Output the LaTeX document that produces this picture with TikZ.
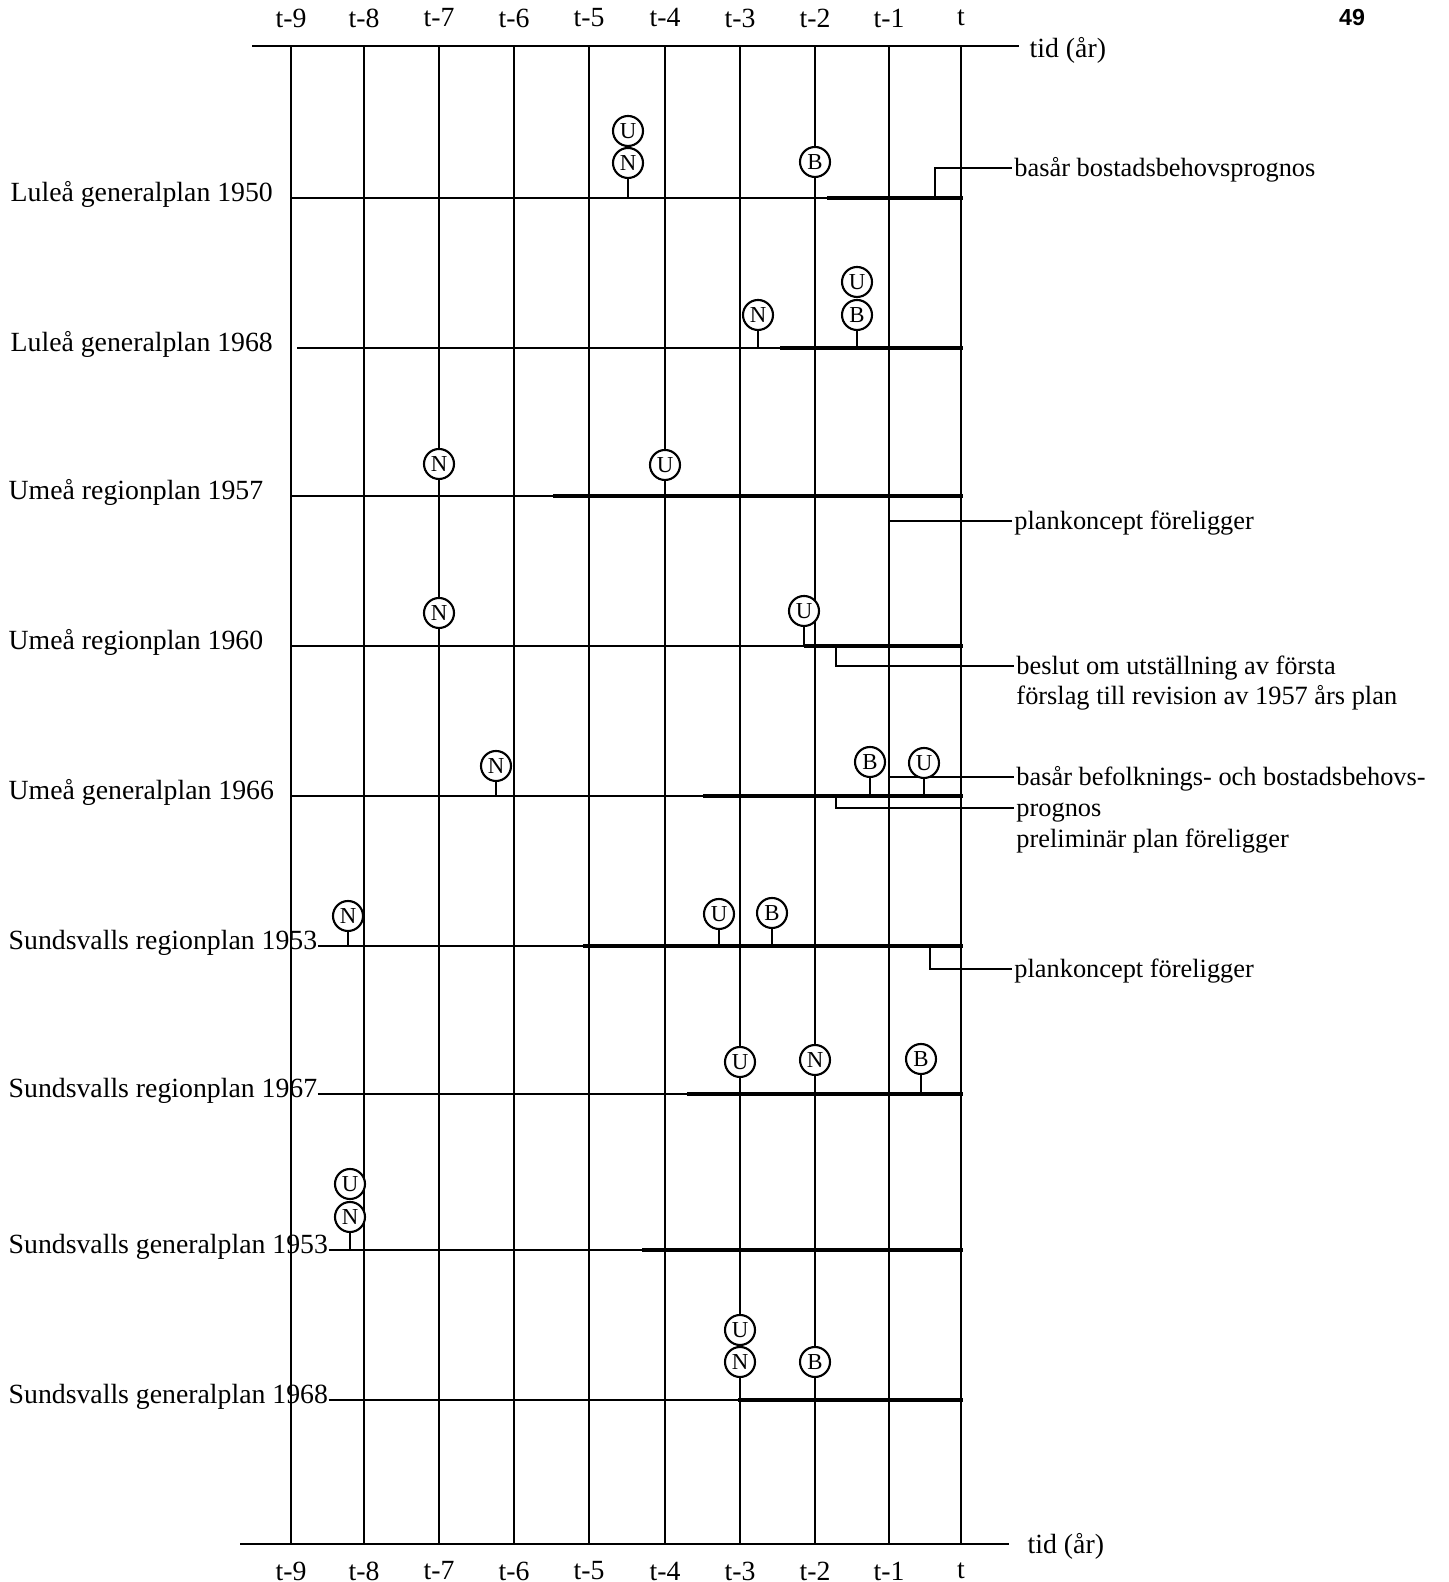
\documentclass[tikz,border=0pt]{standalone}
\usepackage{fontspec}
\setmainfont{Liberation Serif}
\newfontfamily\pagenofont{Liberation Sans}
\usetikzlibrary{calc}

\begin{document}
\begin{tikzpicture}[font=\fontsize{7.9}{9.5}\selectfont,
  gridline/.style={line width=0.45pt},
  axisline/.style={line width=0.7pt},
  planline/.style={line width=0.5pt},
  planbar/.style={line width=1.3pt},
  stage/.style={circle, draw, line width=0.6pt, fill=white, inner sep=0pt,
    minimum size=0.30cm, font=\fontsize{6.5}{7}\selectfont},
  stalk/.style={line width=0.6pt},
  planlabel/.style={anchor=base west, inner sep=0pt},
  note/.style={anchor=west, inner sep=0.5pt, font=\fontsize{7.5}{9}\selectfont,
    text height=0.7em, text depth=0.2em},
  tick/.style={inner sep=0pt}]

\useasboundingbox (0,0) rectangle (14.48,15.82);

% ===== Time axes =====
\draw[axisline] (2.52,15.36) -- (10.19,15.36);
\node[anchor=west, inner sep=0pt] (toptid) at (10.29,15.32) {tid (år)};
\draw[axisline] (2.40,0.38) -- (10.09,0.38);
\node[anchor=west, inner sep=0pt] (bottid) at (10.27,0.36) {tid (år)};

\node[font=\pagenofont\bfseries\fontsize{6.6}{8}\selectfont] (pageno) at (13.52,15.64) {49};

% one vertical line per year, labelled at both ends
\foreach \x/\lab [count=\i] in {2.91/t-9, 3.64/t-8, 4.39/t-7, 5.14/t-6, 5.89/t-5,
                                6.65/t-4, 7.40/t-3, 8.15/t-2, 8.89/t-1, 9.61/t} {
  \draw[gridline] (\x,15.36) -- (\x,0.38);
  \node[tick] (top\i) at (\x,15.64) {\lab};
  \node[tick] (bot\i) at (\x,0.11) {\lab};
}

% ===== Luleå generalplan 1950 =====
\begin{scope}[shift={(0,13.84)}]
  \node[planlabel] (lul50) at (0.10,-0.04) {Luleå generalplan 1950};
  \coordinate (lul50s) at (2.91,0);
  \coordinate (lul50e) at (9.61,0);
  \draw[planline] (lul50s) -- (lul50e);
  \draw[planbar] (8.27,0) -- (9.63,0);
  \node[stage] (lul50U) at (6.28,0.67) {U};
  \node[stage] (lul50N) at (6.28,0.35) {N};
  \node[stage] (lul50B) at (8.15,0.36) {B};
  \draw[stalk] (lul50N.south) -- (lul50N.south |- lul50e);
  \draw[stalk] (lul50B.south) -- (lul50B.south |- lul50e);
  \coordinate (lul50k) at (9.35,0);
  \node[note] (lul50note) at (10.12,0.30) {basår bostadsbehovsprognos};
  \draw[planline] (lul50k) |- (lul50note.west);
\end{scope}

% ===== Luleå generalplan 1968 =====
\begin{scope}[shift={(0,12.34)}]
  \node[planlabel] (lul68) at (0.10,-0.04) {Luleå generalplan 1968};
  \coordinate (lul68s) at (2.97,0);
  \coordinate (lul68e) at (9.61,0);
  \draw[planline] (lul68s) -- (lul68e);
  \draw[planbar] (7.80,0) -- (9.63,0);
  \node[stage] (lul68N) at (7.58,0.33) {N};
  \node[stage] (lul68U) at (8.57,0.66) {U};
  \node[stage] (lul68B) at (8.57,0.33) {B};
  \draw[stalk] (lul68N.south) -- (lul68N.south |- lul68e);
  \draw[stalk] (lul68B.south) -- (lul68B.south |- lul68e);
\end{scope}

% ===== Umeå regionplan 1957 =====
\begin{scope}[shift={(0,10.86)}]
  \node[planlabel] (ume57) at (0.08,-0.04) {Umeå regionplan 1957};
  \coordinate (ume57s) at (2.91,0);
  \coordinate (ume57e) at (9.61,0);
  \draw[planline] (ume57s) -- (ume57e);
  \draw[planbar] (5.53,0) -- (9.63,0);
  \node[stage] (ume57N) at (4.39,0.32) {N};
  \node[stage] (ume57U) at (6.65,0.31) {U};
  \draw[stalk] (ume57N.south) -- (ume57N.south |- ume57e);
  \draw[stalk] (ume57U.south) -- (ume57U.south |- ume57e);
  \coordinate (ume57k) at (8.89,0);
  \node[note] (ume57note) at (10.12,-0.25) {plankoncept föreligger};
  \draw[planline] (ume57k) |- (ume57note.west);
\end{scope}

% ===== Umeå regionplan 1960 =====
\begin{scope}[shift={(0,9.36)}]
  \node[planlabel] (ume60) at (0.08,-0.04) {Umeå regionplan 1960};
  \coordinate (ume60s) at (2.91,0);
  \coordinate (ume60e) at (9.61,0);
  \draw[planline] (ume60s) -- (ume60e);
  \draw[planbar] (8.04,0) -- (9.63,0);
  \node[stage] (ume60N) at (4.39,0.33) {N};
  \node[stage] (ume60U) at (8.04,0.35) {U};
  \draw[stalk] (ume60N.south) -- (ume60N.south |- ume60e);
  \draw[stalk] (ume60U.south) -- (ume60U.south |- ume60e);
  \coordinate (ume60k) at (8.36,0);
  \node[note] (ume60note) at (10.14,-0.20) {beslut om utställning av första};
  \node[note] (ume60note2) at (10.14,-0.50) {förslag till revision av 1957 års plan};
  \draw[planline] (ume60k) |- (ume60note.west);
\end{scope}

% ===== Umeå generalplan 1966 =====
\begin{scope}[shift={(0,7.86)}]
  \node[planlabel] (ume66) at (0.08,-0.04) {Umeå generalplan 1966};
  \coordinate (ume66s) at (2.91,0);
  \coordinate (ume66e) at (9.61,0);
  \draw[planline] (ume66s) -- (ume66e);
  \draw[planbar] (7.03,0) -- (9.63,0);
  \coordinate (ume66k) at (8.89,0);
  \coordinate (ume66j) at (8.36,0);
  \node[note] (ume66note) at (10.14,0.19) {basår befolknings- och bostadsbehovs-};
  \node[note] (ume66note2) at (10.14,-0.12) {prognos};
  \node[note] (ume66note3) at (10.14,-0.43) {preliminär plan föreligger};
  \draw[planline] (ume66k) |- (ume66note.west);
  \draw[planline] (ume66j) |- (ume66note2.west);
  \node[stage] (ume66N) at (4.96,0.30) {N};
  \node[stage] (ume66B) at (8.70,0.34) {B};
  \node[stage] (ume66U) at (9.24,0.33) {U};
  \draw[stalk] (ume66N.south) -- (ume66N.south |- ume66e);
  \draw[stalk] (ume66B.south) -- (ume66B.south |- ume66e);
  \draw[stalk] (ume66U.south) -- (ume66U.south |- ume66e);
\end{scope}

% ===== Sundsvalls regionplan 1953 =====
\begin{scope}[shift={(0,6.36)}]
  \node[planlabel] (sun53r) at (0.08,-0.04) {Sundsvalls regionplan 1953};
  \coordinate (sun53re) at (9.61,0);
  \draw[planline] (sun53r.east |- sun53re) -- (sun53re);
  \draw[planbar] (5.83,0) -- (9.63,0);
  \node[stage] (sun53rN) at (3.48,0.30) {N};
  \node[stage] (sun53rU) at (7.19,0.32) {U};
  \node[stage] (sun53rB) at (7.72,0.33) {B};
  \draw[stalk] (sun53rN.south) -- (sun53rN.south |- sun53re);
  \draw[stalk] (sun53rU.south) -- (sun53rU.south |- sun53re);
  \draw[stalk] (sun53rB.south) -- (sun53rB.south |- sun53re);
  \coordinate (sun53rk) at (9.30,0);
  \node[note] (sun53rnote) at (10.12,-0.23) {plankoncept föreligger};
  \draw[planline] (sun53rk) |- (sun53rnote.west);
\end{scope}

% ===== Sundsvalls regionplan 1967 =====
\begin{scope}[shift={(0,4.88)}]
  \node[planlabel] (sun67r) at (0.08,-0.04) {Sundsvalls regionplan 1967};
  \coordinate (sun67re) at (9.61,0);
  \draw[planline] (sun67r.east |- sun67re) -- (sun67re);
  \draw[planbar] (6.87,0) -- (9.63,0);
  \node[stage] (sun67rU) at (7.40,0.32) {U};
  \node[stage] (sun67rN) at (8.15,0.34) {N};
  \node[stage] (sun67rB) at (9.21,0.35) {B};
  \draw[stalk] (sun67rU.south) -- (sun67rU.south |- sun67re);
  \draw[stalk] (sun67rN.south) -- (sun67rN.south |- sun67re);
  \draw[stalk] (sun67rB.south) -- (sun67rB.south |- sun67re);
\end{scope}

% ===== Sundsvalls generalplan 1953 =====
\begin{scope}[shift={(0,3.32)}]
  \node[planlabel] (sun53g) at (0.08,-0.04) {Sundsvalls generalplan 1953};
  \coordinate (sun53ge) at (9.61,0);
  \draw[planline] (sun53g.east |- sun53ge) -- (sun53ge);
  \draw[planbar] (6.42,0) -- (9.63,0);
  \node[stage] (sun53gU) at (3.50,0.66) {U};
  \node[stage] (sun53gN) at (3.50,0.33) {N};
  \draw[stalk] (sun53gN.south) -- (sun53gN.south |- sun53ge);
\end{scope}

% ===== Sundsvalls generalplan 1968 =====
\begin{scope}[shift={(0,1.82)}]
  \node[planlabel] (sun68g) at (0.08,-0.04) {Sundsvalls generalplan 1968};
  \coordinate (sun68ge) at (9.61,0);
  \draw[planline] (sun68g.east |- sun68ge) -- (sun68ge);
  \draw[planbar] (7.38,0) -- (9.63,0);
  \node[stage] (sun68gU) at (7.40,0.70) {U};
  \node[stage] (sun68gN) at (7.40,0.38) {N};
  \node[stage] (sun68gB) at (8.15,0.38) {B};
  \draw[stalk] (sun68gN.south) -- (sun68gN.south |- sun68ge);
  \draw[stalk] (sun68gB.south) -- (sun68gB.south |- sun68ge);
\end{scope}

\end{tikzpicture}
\end{document}
